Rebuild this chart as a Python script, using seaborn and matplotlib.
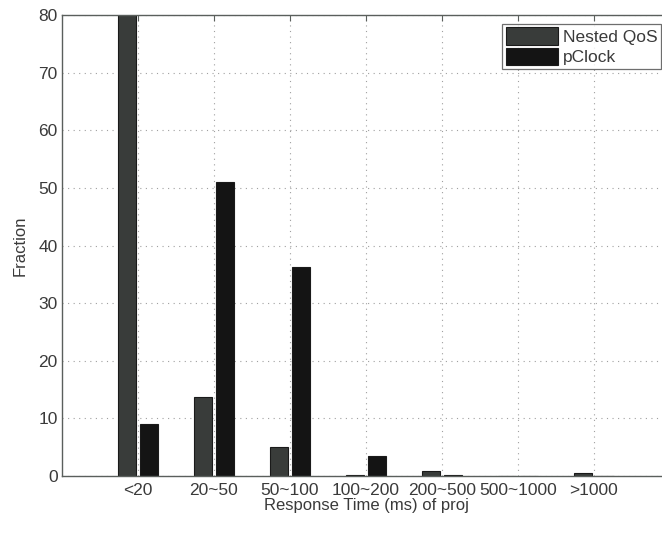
import matplotlib
matplotlib.use("Agg")
import matplotlib.pyplot as plt
import seaborn as sns
import pandas as pd

categories = ["<20", "20~50", "50~100", "100~200", "200~500", "500~1000", ">1000"]
nested_qos = [82.0, 13.7, 5.1, 0.15, 0.95, 0.0, 0.45]
pclock = [9.0, 51.1, 36.3, 3.4, 0.2, 0.0, 0.0]
series_names = ["Nested QoS", "pClock"]
y_ticks = [0, 10, 20, 30, 40, 50, 60, 70, 80]

df = pd.DataFrame({
    "category": categories * 2,
    "value": nested_qos + pclock,
    "series": [series_names[0]] * len(categories) + [series_names[1]] * len(categories),
})

sns.set_theme(style="white")
plt.rcParams["font.family"] = ["Liberation Sans", "DejaVu Sans"]
text_color = "#3a3a3a"

fig = plt.figure(figsize=(6.62, 5.35), dpi=100)
ax = fig.add_axes([62 / 662, 59 / 535, 608 / 662, 461 / 535])

sns.barplot(
    data=df, x="category", y="value", hue="series", order=categories,
    hue_order=series_names, palette=["#383d3a", "#141414"],
    width=0.58, gap=0.14, edgecolor="#1a1a1a", linewidth=0.8,
    errorbar=None, ax=ax,
)

ax.set_xlim(-1, 7)
ax.set_ylim(0, 80)
ax.set_yticks(y_ticks)
ax.set_yticklabels([str(t) for t in y_ticks])

ax.grid(True, axis="both", linestyle=(0, (1, 4)), color="#a0a0a0", linewidth=0.8)
ax.set_axisbelow(True)
for sp in ax.spines.values():
    sp.set_color("#5a5f5c")
    sp.set_linewidth(1.0)

ax.tick_params(axis="both", direction="in", length=4, width=0.8, color="#5a5f5c",
               labelsize=12.5, labelcolor=text_color, top=True, right=True)
ax.tick_params(axis="x", pad=5)
ax.tick_params(axis="y", pad=3)

ax.set_xlabel("Response Time (ms) of proj", fontsize=12, color=text_color, labelpad=0)
ax.set_ylabel("Fraction", fontsize=12, color=text_color, labelpad=8)

leg = ax.legend(loc="upper right", fontsize=12.5, frameon=True, fancybox=False,
                handlelength=3.0, handleheight=1.2, handletextpad=0.3,
                borderpad=0.2, labelspacing=0.15, borderaxespad=0.5)
leg.get_frame().set_edgecolor("#4a4a4a")
leg.get_frame().set_linewidth(0.9)
for t in leg.get_texts():
    t.set_color(text_color)

fig.savefig("out.png", dpi=100)
